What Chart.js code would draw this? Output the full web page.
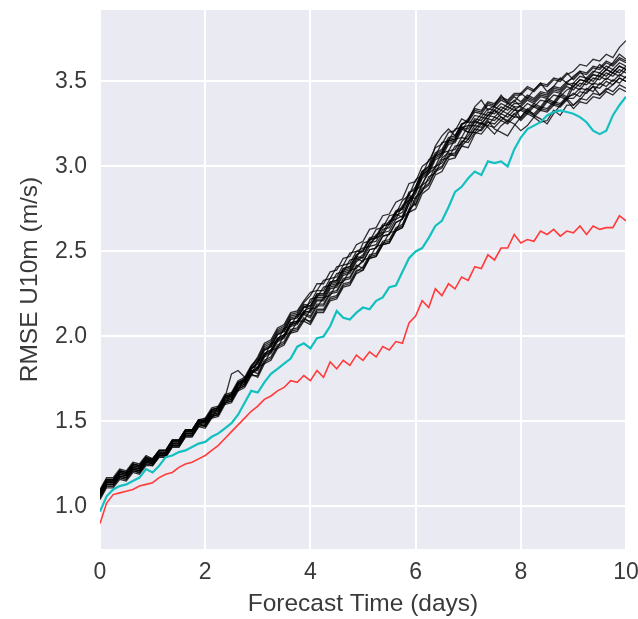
<!DOCTYPE html>
<html><head><meta charset="utf-8">
<script src="https://cdn.jsdelivr.net/npm/chart.js@4.4.0/dist/chart.umd.min.js"></script>
<style>
html,body{margin:0;padding:0;background:#fff;overflow:hidden;width:638px;height:619px}
#wrap{position:absolute;left:0;top:0;width:650px;height:619px}
</style>
</head><body>
<div id="wrap"><canvas id="c" width="650" height="619"></canvas></div>
<script>
const times = [0,0.125,0.25,0.375,0.5,0.625,0.75,0.875,1,1.125,1.25,1.375,1.5,1.625,1.75,1.875,2,2.125,2.25,2.375,2.5,2.625,2.75,2.875,3,3.125,3.25,3.375,3.5,3.625,3.75,3.875,4,4.125,4.25,4.375,4.5,4.625,4.75,4.875,5,5.125,5.25,5.375,5.5,5.625,5.75,5.875,6,6.125,6.25,6.375,6.5,6.625,6.75,6.875,7,7.125,7.25,7.375,7.5,7.625,7.75,7.875,8,8.125,8.25,8.375,8.5,8.625,8.75,8.875,9,9.125,9.25,9.375,9.5,9.625,9.75,9.875,10];
const xTicks = [0,2,4,6,8,10];
const yTicks = [1.0,1.5,2.0,2.5,3.0,3.5];
const xTitle = 'Forecast Time (days)';
const yTitle = 'RMSE U10m (m/s)';

const redSeries = [0.90,1.02,1.07,1.08,1.09,1.10,1.12,1.13, 1.14,1.17,1.19,1.20,1.23,1.25,1.26,1.28, 1.30,1.33,1.36,1.40,1.44,1.48,1.52,1.56, 1.59,1.63,1.65,1.68,1.70,1.74,1.73,1.77, 1.74,1.80,1.76,1.85,1.81,1.86,1.83,1.89, 1.86,1.91,1.88,1.94,1.92,1.97,1.96,2.08, 2.12,2.21,2.17,2.28,2.24,2.31,2.28,2.35, 2.33,2.41,2.40,2.48,2.45,2.52,2.52,2.60, 2.55,2.57,2.56,2.62,2.60,2.63,2.59,2.62, 2.61,2.65,2.60,2.65,2.63,2.64,2.64,2.71, 2.68];
const cyanSeries = [0.97,1.06,1.10,1.12,1.13,1.15,1.17,1.22, 1.20,1.24,1.29,1.30,1.32,1.33,1.35,1.37, 1.38,1.41,1.43,1.46,1.49,1.54,1.61,1.68, 1.67,1.73,1.78,1.81,1.84,1.87,1.94,1.96, 1.93,1.99,2.00,2.06,2.15,2.11,2.10,2.14, 2.17,2.16,2.21,2.23,2.29,2.30,2.38,2.46, 2.50,2.52,2.58,2.65,2.68,2.76,2.85,2.88, 2.93,2.97,2.95,3.03,3.02,3.03,3.00,3.10, 3.17,3.22,3.24,3.26,3.30,3.32,3.33,3.32, 3.31,3.29,3.26,3.21,3.19,3.21,3.30,3.36, 3.41];

const m01 = [1.09,1.16,1.16,1.21,1.20,1.25,1.24,1.29, 1.28,1.33,1.33,1.39,1.39,1.45,1.45,1.51, 1.52,1.58,1.59,1.66,1.67,1.74,1.76,1.83, 1.87,1.95,1.97,2.04,2.06,2.13,2.14,2.20, 2.24,2.31,2.31,2.38,2.39,2.46,2.47,2.54, 2.56,2.63,2.64,2.71,2.72,2.79,2.81,2.90, 2.91,3.00,3.03,3.11,3.13,3.20,3.21,3.28, 3.26,3.32,3.31,3.36,3.35,3.39,3.37,3.41, 3.38,3.42,3.40,3.44,3.43,3.47,3.46,3.50, 3.52,3.56,3.55,3.59,3.58,3.62,3.60,3.64, 3.62];
const m02 = [1.05,1.12,1.12,1.17,1.16,1.21,1.20,1.25, 1.24,1.29,1.29,1.35,1.35,1.41,1.41,1.47, 1.46,1.52,1.53,1.60,1.61,1.68,1.70,1.77, 1.77,1.85,1.87,1.94,1.96,2.03,2.04,2.10, 2.09,2.16,2.16,2.23,2.24,2.31,2.32,2.39, 2.39,2.46,2.47,2.54,2.55,2.62,2.64,2.73, 2.75,2.84,2.87,2.95,2.97,3.04,3.05,3.12, 3.11,3.19,3.22,3.27,3.22,3.20,3.18,3.24, 3.29,3.34,3.30,3.28,3.25,3.31,3.36,3.40, 3.36,3.39,3.44,3.47,3.42,3.45,3.48,3.52, 3.50];
const m03 = [1.08,1.15,1.15,1.20,1.19,1.24,1.23,1.28, 1.26,1.31,1.31,1.37,1.37,1.43,1.43,1.49, 1.50,1.56,1.57,1.64,1.65,1.72,1.74,1.81, 1.84,1.92,1.94,2.01,2.03,2.10,2.11,2.17, 2.18,2.25,2.25,2.32,2.33,2.40,2.41,2.48, 2.50,2.57,2.58,2.65,2.66,2.73,2.75,2.84, 2.88,2.97,3.00,3.08,3.10,3.17,3.18,3.25, 3.27,3.33,3.32,3.37,3.36,3.40,3.38,3.42, 3.42,3.46,3.44,3.48,3.47,3.51,3.50,3.54, 3.56,3.60,3.59,3.63,3.62,3.66,3.64,3.70, 3.74];
const m04 = [1.06,1.13,1.13,1.18,1.17,1.22,1.21,1.26, 1.25,1.30,1.30,1.36,1.36,1.42,1.42,1.48, 1.47,1.53,1.54,1.61,1.62,1.69,1.71,1.78, 1.82,1.84,1.92,1.93,2.01,2.02,2.09,2.09, 2.16,2.17,2.23,2.24,2.31,2.32,2.39,2.40, 2.45,2.46,2.53,2.54,2.61,2.62,2.70,2.73, 2.82,2.85,2.94,2.96,3.04,3.05,3.12,3.13, 3.20,3.20,3.25,3.24,3.29,3.27,3.31,3.29, 3.34,3.32,3.36,3.34,3.39,3.37,3.42,3.40, 3.43,3.41,3.46,3.44,3.49,3.47,3.51,3.49, 3.53];
const m05 = [1.10,1.17,1.17,1.22,1.21,1.26,1.25,1.30, 1.28,1.33,1.33,1.39,1.39,1.45,1.45,1.51, 1.51,1.57,1.58,1.65,1.66,1.73,1.75,1.82, 1.86,1.94,1.96,2.03,2.05,2.12,2.13,2.19, 2.18,2.25,2.25,2.32,2.33,2.40,2.41,2.48, 2.51,2.58,2.59,2.66,2.67,2.74,2.76,2.85, 2.86,2.95,2.98,3.06,3.08,3.15,3.16,3.23, 3.22,3.28,3.27,3.32,3.31,3.35,3.33,3.37, 3.37,3.41,3.39,3.43,3.42,3.46,3.45,3.49, 3.47,3.51,3.50,3.54,3.53,3.57,3.55,3.59, 3.57];
const m06 = [1.07,1.14,1.14,1.19,1.18,1.23,1.22,1.27, 1.27,1.32,1.32,1.38,1.38,1.44,1.44,1.50, 1.49,1.55,1.56,1.63,1.64,1.71,1.73,1.80, 1.81,1.89,1.91,1.98,2.00,2.07,2.08,2.14, 2.15,2.22,2.22,2.29,2.30,2.37,2.38,2.45, 2.48,2.55,2.56,2.63,2.64,2.71,2.73,2.82, 2.81,2.90,2.96,2.99,3.05,3.08,3.06,3.12, 3.16,3.22,3.26,3.23,3.19,3.24,3.27,3.25, 3.21,3.24,3.29,3.26,3.27,3.33,3.30,3.36, 3.36,3.40,3.39,3.43,3.42,3.46,3.44,3.48, 3.46];
const m07 = [1.04,1.11,1.11,1.16,1.15,1.20,1.19,1.24, 1.24,1.29,1.29,1.35,1.35,1.41,1.41,1.47, 1.48,1.54,1.55,1.62,1.63,1.70,1.72,1.79, 1.82,1.90,1.92,1.99,2.01,2.08,2.09,2.15, 2.17,2.24,2.24,2.31,2.32,2.39,2.40,2.47, 2.46,2.53,2.54,2.61,2.62,2.69,2.71,2.80, 2.86,2.95,2.98,3.06,3.08,3.15,3.16,3.23, 3.24,3.30,3.29,3.34,3.33,3.37,3.35,3.39, 3.35,3.39,3.37,3.41,3.40,3.44,3.43,3.47, 3.45,3.49,3.48,3.52,3.51,3.55,3.53,3.57, 3.55];
const m08 = [1.07,1.14,1.14,1.19,1.18,1.23,1.22,1.27, 1.25,1.30,1.30,1.36,1.36,1.42,1.42,1.48, 1.51,1.57,1.58,1.65,1.66,1.73,1.75,1.82, 1.88,1.96,1.98,2.05,2.07,2.14,2.15,2.21, 2.26,2.27,2.33,2.34,2.41,2.42,2.49,2.50, 2.52,2.53,2.60,2.61,2.68,2.69,2.77,2.80, 2.86,2.89,2.98,3.00,3.08,3.09,3.16,3.17, 3.24,3.24,3.29,3.28,3.33,3.31,3.35,3.33, 3.33,3.31,3.35,3.33,3.38,3.36,3.41,3.39, 3.47,3.45,3.50,3.48,3.53,3.51,3.55,3.53, 3.57];
const m09 = [1.08,1.15,1.15,1.20,1.19,1.24,1.23,1.28, 1.28,1.33,1.33,1.39,1.39,1.45,1.45,1.51, 1.49,1.55,1.56,1.63,1.64,1.71,1.73,1.80, 1.78,1.86,1.88,1.95,1.97,2.04,2.05,2.11, 2.08,2.15,2.15,2.22,2.23,2.30,2.31,2.38, 2.41,2.48,2.49,2.56,2.57,2.64,2.66,2.75, 2.78,2.87,2.90,2.98,3.00,3.07,3.08,3.15, 3.14,3.20,3.19,3.24,3.23,3.27,3.25,3.29, 3.29,3.33,3.31,3.35,3.34,3.38,3.37,3.41, 3.42,3.46,3.45,3.49,3.48,3.52,3.50,3.54, 3.52];
const m10 = [1.06,1.13,1.13,1.18,1.17,1.22,1.21,1.26, 1.26,1.31,1.31,1.37,1.37,1.43,1.43,1.49, 1.50,1.56,1.57,1.64,1.65,1.72,1.74,1.81, 1.85,1.93,1.95,2.02,2.04,2.11,2.12,2.18, 2.16,2.23,2.23,2.30,2.31,2.38,2.39,2.46, 2.44,2.51,2.52,2.59,2.60,2.67,2.69,2.78, 2.84,2.93,2.96,3.04,3.06,3.13,3.14,3.21, 3.27,3.35,3.39,3.33,3.36,3.42,3.37,3.38, 3.43,3.40,3.45,3.49,3.44,3.47,3.52,3.49, 3.53,3.56,3.51,3.55,3.60,3.57,3.61,3.66, 3.63];
const m11 = [1.09,1.16,1.16,1.21,1.20,1.25,1.24,1.29, 1.27,1.32,1.32,1.38,1.38,1.44,1.44,1.50, 1.48,1.54,1.55,1.62,1.63,1.70,1.72,1.79, 1.80,1.88,1.90,1.97,1.99,2.06,2.07,2.13, 2.11,2.18,2.18,2.25,2.26,2.33,2.34,2.41, 2.44,2.51,2.52,2.59,2.60,2.67,2.69,2.78, 2.87,2.96,2.99,3.07,3.09,3.16,3.17,3.24, 3.28,3.34,3.33,3.38,3.37,3.41,3.39,3.43, 3.43,3.47,3.45,3.49,3.48,3.52,3.51,3.55, 3.51,3.55,3.54,3.58,3.57,3.61,3.59,3.63, 3.61];
const m12 = [1.05,1.12,1.12,1.17,1.16,1.21,1.20,1.25, 1.25,1.30,1.30,1.36,1.36,1.42,1.42,1.48, 1.52,1.52,1.59,1.60,1.67,1.68,1.76,1.77, 1.86,1.88,1.96,1.97,2.05,2.06,2.13,2.13, 2.22,2.23,2.29,2.30,2.37,2.38,2.45,2.46, 2.55,2.56,2.63,2.64,2.71,2.72,2.80,2.83, 2.92,2.95,3.04,3.06,3.14,3.15,3.22,3.23, 3.20,3.26,3.25,3.30,3.29,3.33,3.31,3.35, 3.28,3.32,3.30,3.34,3.33,3.37,3.36,3.40, 3.40,3.44,3.43,3.47,3.46,3.50,3.48,3.52, 3.50];
const m13 = [1.07,1.14,1.14,1.19,1.18,1.23,1.22,1.27, 1.26,1.31,1.31,1.37,1.37,1.43,1.43,1.49, 1.47,1.53,1.54,1.61,1.62,1.69,1.71,1.78, 1.76,1.84,1.86,1.93,1.95,2.02,2.03,2.09, 2.07,2.14,2.14,2.21,2.22,2.29,2.30,2.37, 2.39,2.46,2.47,2.54,2.55,2.62,2.64,2.73, 2.80,2.89,2.92,3.00,3.02,3.09,3.10,3.17, 3.16,3.22,3.21,3.26,3.25,3.29,3.27,3.31, 3.27,3.31,3.29,3.33,3.32,3.36,3.35,3.39, 3.34,3.38,3.37,3.41,3.40,3.44,3.42,3.46, 3.44];
const m14 = [1.08,1.15,1.15,1.20,1.19,1.24,1.23,1.28, 1.27,1.32,1.32,1.38,1.38,1.44,1.44,1.50, 1.51,1.57,1.58,1.65,1.66,1.73,1.75,1.82, 1.82,1.90,1.92,1.99,2.01,2.08,2.09,2.15, 2.14,2.21,2.21,2.28,2.29,2.36,2.37,2.44, 2.47,2.55,2.58,2.60,2.66,2.72,2.70,2.80, 2.85,2.94,2.97,3.05,3.07,3.14,3.15,3.22, 3.20,3.27,3.25,3.30,3.33,3.29,3.26,3.31, 3.33,3.37,3.35,3.39,3.38,3.42,3.41,3.45, 3.47,3.51,3.50,3.54,3.53,3.57,3.55,3.59, 3.57];
const m15 = [1.06,1.13,1.13,1.18,1.17,1.22,1.21,1.26, 1.28,1.33,1.33,1.39,1.39,1.45,1.45,1.51, 1.50,1.56,1.57,1.64,1.65,1.72,1.74,1.81, 1.84,1.92,1.94,2.01,2.03,2.10,2.11,2.17, 2.20,2.27,2.27,2.34,2.35,2.42,2.43,2.50, 2.50,2.57,2.58,2.65,2.66,2.73,2.75,2.84, 2.77,2.86,2.89,2.97,2.99,3.06,3.07,3.14, 3.18,3.24,3.23,3.28,3.27,3.31,3.29,3.33, 3.36,3.40,3.38,3.42,3.41,3.45,3.44,3.48, 3.49,3.53,3.52,3.56,3.55,3.59,3.57,3.61, 3.59];
const m16 = [1.09,1.16,1.16,1.21,1.20,1.25,1.24,1.29, 1.26,1.31,1.31,1.37,1.37,1.43,1.43,1.49, 1.47,1.53,1.54,1.64,1.78,1.80,1.76,1.78, 1.81,1.89,1.91,1.98,2.00,2.07,2.08,2.14, 2.12,2.19,2.19,2.26,2.27,2.34,2.35,2.42, 2.40,2.47,2.48,2.55,2.56,2.63,2.65,2.74, 2.88,2.97,3.00,3.12,3.18,3.22,3.18,3.25, 3.26,3.26,3.31,3.30,3.35,3.33,3.37,3.35, 3.35,3.33,3.37,3.35,3.40,3.38,3.43,3.41, 3.49,3.47,3.52,3.50,3.55,3.53,3.57,3.55, 3.59];
const members = [m01,m02,m03,m04,m05,m06,m07,m08,m09,m10,m11,m12,m13,m14,m15,m16];

const toPts = arr => arr.map((v, i) => ({x: times[i], y: v}));
const FONT = "'Liberation Sans', Arial, sans-serif";
const TXT = '#3a3a3a';

const bgPlugin = {
  id: 'bgArea',
  beforeDraw(chart) {
    const {ctx, chartArea: a} = chart;
    ctx.save();
    ctx.fillStyle = '#EAEAF2';
    ctx.fillRect(a.left, a.top, a.right - a.left, a.bottom - a.top);
    ctx.restore();
  }
};

const datasets = [
  {data: toPts(redSeries), borderColor: '#ff3b3b', borderWidth: 1.6, order: 0},
  {data: toPts(cyanSeries), borderColor: '#12c0c0', borderWidth: 2.2, order: 1}
].concat(members.map(m => ({data: toPts(m), borderColor: 'rgba(0,0,0,0.8)', borderWidth: 1.3, order: 2})));
datasets.forEach(d => { d.pointRadius = 0; d.tension = 0; d.fill = false; });

new Chart(document.getElementById('c'), {
  type: 'line',
  data: {datasets},
  plugins: [bgPlugin],
  options: {
    responsive: false,
    devicePixelRatio: 1,
    animation: false,
    layout: {padding: {top: 10, right: 24, bottom: 0, left: 0}},
    plugins: {legend: {display: false}, tooltip: {enabled: false}},
    scales: {
      x: {
        type: 'linear', min: 0, max: 10,
        afterBuildTicks: s => { s.ticks = xTicks.map(v => ({value: v})); },
        afterFit: s => { s.height = 70; s.paddingLeft = 0; s.paddingRight = 0; },
        grid: {color: '#ffffff', lineWidth: 2, drawTicks: false},
        border: {display: false},
        ticks: {font: {family: FONT, size: 23}, color: TXT, padding: 10, maxRotation: 0, callback: v => String(v)},
        title: {display: true, text: xTitle, font: {family: FONT, size: 24.5}, color: TXT, padding: {top: 0, bottom: 0}}
      },
      y: {
        type: 'linear', min: 0.75, max: 3.92,
        afterBuildTicks: s => { s.ticks = yTicks.map(v => ({value: v})); },
        afterFit: s => { s.width = 100; s.paddingTop = 0; s.paddingBottom = 0; },
        grid: {color: '#ffffff', lineWidth: 2, drawTicks: false},
        border: {display: false},
        ticks: {font: {family: FONT, size: 23}, color: TXT, padding: 13, callback: v => Number(v).toFixed(1)},
        title: {display: true, text: yTitle, font: {family: FONT, size: 24.5}, color: TXT, padding: {top: 16, bottom: 0}}
      }
    }
  }
});
</script>
</body></html>
